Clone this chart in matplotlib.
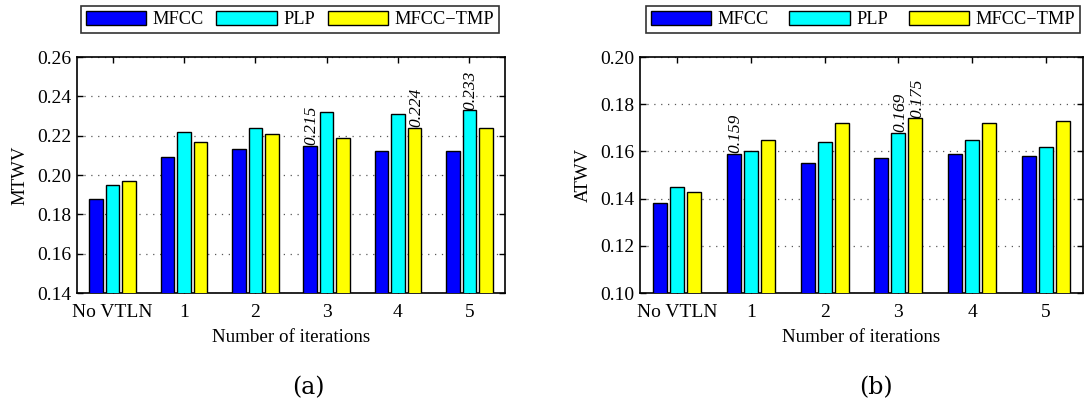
import numpy as np
import matplotlib
matplotlib.use("Agg")
import matplotlib.pyplot as plt
from matplotlib.ticker import FormatStrFormatter

plt.rcParams['font.family'] = ['Liberation Serif', 'DejaVu Serif']

categories = ["No VTLN", "1", "2", "3", "4", "5"]
series_names = ["MFCC", "PLP", "MFCC\u2212TMP"]
colors = ["#0000ff", "#00ffff", "#ffff00"]

mtwv_mfcc = [0.188, 0.209, 0.213, 0.215, 0.212, 0.212]
mtwv_plp = [0.195, 0.222, 0.224, 0.232, 0.231, 0.233]
mtwv_tmp = [0.197, 0.217, 0.221, 0.219, 0.224, 0.224]

atwv_mfcc = [0.138, 0.159, 0.155, 0.157, 0.159, 0.158]
atwv_plp = [0.145, 0.160, 0.164, 0.168, 0.165, 0.162]
atwv_tmp = [0.143, 0.165, 0.172, 0.174, 0.172, 0.173]

# annotations: (group index, series index, label)
mtwv_notes = [(3, 0, "0.215"), (4, 2, "0.224"), (5, 1, "0.233")]
atwv_notes = [(1, 0, "0.159"), (3, 1, "0.169"), (3, 2, "0.175")]

mtwv_ticks = [0.14, 0.16, 0.18, 0.20, 0.22, 0.24, 0.26]
atwv_ticks = [0.10, 0.12, 0.14, 0.16, 0.18, 0.20]

W, H = 1084, 405
fig = plt.figure(figsize=(W / 100, H / 100), dpi=100)

def fx(px):
    return px / W

def fy(py):
    return 1 - py / H

offsets = [-0.23, 0.0, 0.23]
bw = 0.19

def draw(rect, series, ticks, ylabel, notes, leg_rect, caption, cap_x):
    ax = fig.add_axes(rect)
    x = np.arange(1, len(categories) + 1)
    bars = []
    for i, (vals, c, name) in enumerate(zip(series, colors, series_names)):
        b = ax.bar(x + offsets[i], vals, width=bw, color=c, edgecolor='black',
                   linewidth=1.0, label=name, zorder=3)
        bars.append(b)
    for g, s, lab in notes:
        ax.text(x[g] + offsets[s] + 0.02, series[s][g] + 0.0003, lab, rotation=90,
                ha='center', va='bottom', fontsize=12.5, style='italic', zorder=4)
    ax.set_xlim(0.5, len(categories) + 0.5)
    ax.set_ylim(ticks[0], ticks[-1])
    ax.set_yticks(ticks)
    ax.yaxis.set_major_formatter(FormatStrFormatter('%.2f'))
    ax.set_xticks(x)
    ax.set_xticklabels(categories)
    ax.tick_params(direction='in', length=4, width=1, top=True, right=True,
                   labelsize=14)
    ax.tick_params(axis='x', pad=8)
    ax.tick_params(axis='y', pad=4)
    ax.yaxis.grid(True, linestyle=(0, (1, 4.5)), color='0.35', linewidth=0.9, zorder=0)
    ax.set_axisbelow(True)
    for sp in ax.spines.values():
        sp.set_linewidth(1.2)
    ax.set_ylabel(ylabel, fontsize=13.5, labelpad=6)
    ax.set_xlabel("Number of iterations", fontsize=13.7, labelpad=6)
    leg = fig.legend(handles=bars, labels=series_names, loc='center',
                     bbox_to_anchor=leg_rect, mode='expand', ncol=3,
                     fontsize=13.2, frameon=True, fancybox=False,
                     edgecolor='black', handlelength=3.3, handleheight=0.82,
                     handletextpad=0.35, borderpad=0.25, borderaxespad=0.0)
    leg.get_frame().set_linewidth(1.2)
    fig.text(cap_x, fy(388), caption, ha='center', va='center', fontsize=17,
             family=['DejaVu Serif'])
    return ax

ax_h = (293 - 57) / H
draw([fx(77), fy(293), fx(428), ax_h],
     [mtwv_mfcc, mtwv_plp, mtwv_tmp], mtwv_ticks, "MTWV", mtwv_notes,
     (fx(81), fy(34), fx(418), (34 - 5) / H), "(a)", fx(308))
draw([fx(640), fy(293), fx(443), ax_h],
     [atwv_mfcc, atwv_plp, atwv_tmp], atwv_ticks, "ATWV", atwv_notes,
     (fx(646), fy(34), fx(434), (34 - 5) / H), "(b)", fx(876))

fig.savefig("out.png", dpi=100)
